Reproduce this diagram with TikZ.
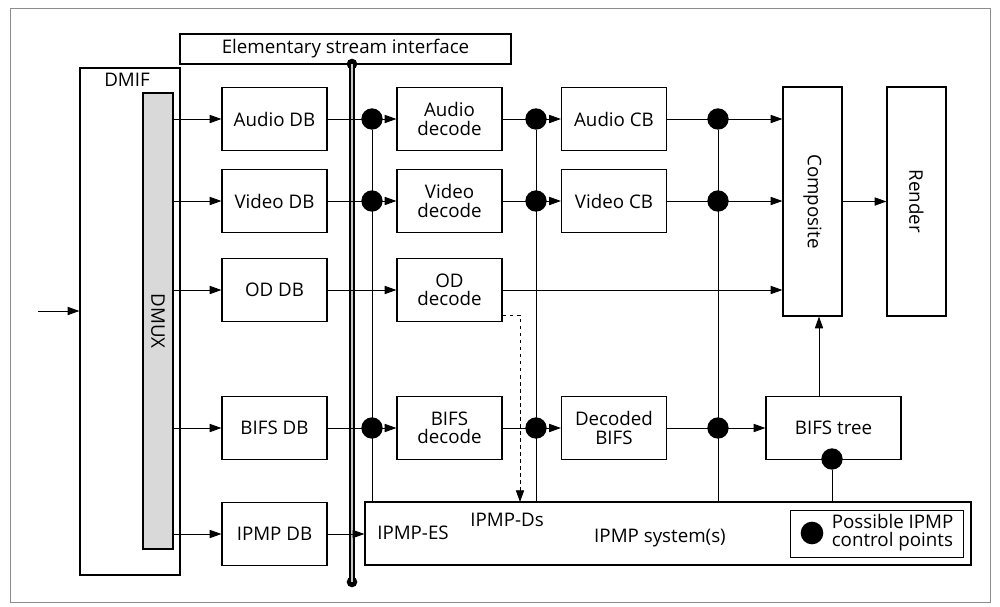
\documentclass[tikz,border=0pt]{standalone}
\usepackage{fontspec}
\setmainfont{Open Sans}
\usetikzlibrary{arrows.meta,positioning}
\definecolor{ipgray}{RGB}{140,140,140}
\definecolor{ipfill}{RGB}{200,200,200}
\tikzset{
  blk/.style={draw, line width=1pt, align=center, inner sep=0pt},
  dbbox/.style={blk, minimum width=3.15cm, minimum height=1.89cm},
  ctrl/.style={circle, fill=black, minimum size=0.64cm, inner sep=0pt},
  busend/.style={circle, fill=black, minimum size=0.32cm, inner sep=0pt},
  sig/.style={-{Stealth[length=10pt,width=7pt,inset=0pt]}, line width=0.75pt},
  wire/.style={line width=0.75pt},
  bus/.style={line width=1.3pt, double=ipfill, double distance=2pt}
}
\begin{document}
\begin{tikzpicture}[x=0.03cm, y=-0.03cm, font=\fontsize{16}{15.5}\selectfont]
\useasboundingbox (0,0) rectangle (1000,606);
% outer frame
\draw[ipgray, line width=0.6pt] (10,8) rectangle (990,602);
% interface and demux
\node[blk, minimum width=9.93cm, minimum height=0.9cm] (esi) at (345.5,49) {Elementary stream interface};
\node[blk, minimum width=3cm, minimum height=15.21cm] (dmif) at (130,321.5) {};
\node (dmiftxt) at (127,80) {DMIF};
\node[blk, fill=ipfill!70, minimum width=0.9cm, minimum height=13.68cm] (dmux) at (158,321) {};
\node[rotate=-90] (dmuxtxt) at (158,321) {DMUX};
% decoding buffers
\node[dbbox] (adb) at (274.5,119) {Audio DB};
\node[dbbox] (vdb) at (274.5,201) {Video DB};
\node[dbbox] (odb) at (274.5,290) {OD DB};
\node[dbbox] (bdb) at (274.5,428) {BIFS DB};
\node[dbbox] (idb) at (274.5,534) {IPMP DB};
% decoders
\node[dbbox] (adec) at (449.5,119) {Audio\\decode};
\node[dbbox] (vdec) at (449.5,201) {Video\\decode};
\node[dbbox] (odec) at (449.5,290) {OD\\decode};
\node[dbbox] (bdec) at (449.5,428) {BIFS\\decode};
% composition buffers
\node[dbbox] (acb) at (614,119) {Audio CB};
\node[dbbox] (vcb) at (614,201) {Video CB};
\node[dbbox] (dbifs) at (614,428) {Decoded\\BIFS};
% composite, render, scene tree
\node[blk, minimum width=1.77cm, minimum height=6.87cm] (comp) at (812.5,201.5) {};
\node[rotate=-90] (comptxt) at (comp) {Composite};
\node[blk, minimum width=1.77cm, minimum height=6.87cm] (render) at (916.5,201.5) {};
\node[rotate=-90] (rendertxt) at (render) {Render};
\node[blk, minimum width=4.05cm, minimum height=1.89cm] (btree) at (833.5,428) {BIFS tree};
% IPMP system
\node[blk, minimum width=18.18cm, minimum height=1.89cm] (ipmp) at (668,533.5) {};
\node (ipes) at (413,533) {IPMP-ES};
\node (ipds) at (507,520) {IPMP-Ds};
\node (ipsys) at (660,538) {IPMP system(s)};
% legend
\node[blk, line width=0.75pt, minimum width=5.19cm, minimum height=1.41cm] (legend) at (876.5,533.5) {};
\node[ctrl, minimum size=0.68cm] (legdot) at (812,533) {};
\node[align=left, right=0.24cm of legdot, inner sep=0pt] (legtxt) {Possible IPMP\\control points};
% stream bus
\node[busend] (bustop) at (352,64) {};
\node[busend] (busbot) at (352,582) {};
\draw[bus] (bustop.center) -- (busbot.center);
% control points
\node[ctrl] (c1a) at (372,119) {};
\node[ctrl] (c1v) at (372,201) {};
\node[ctrl] (c1b) at (372,428) {};
\node[ctrl] (c2a) at (536,119) {};
\node[ctrl] (c2v) at (536,201) {};
\node[ctrl] (c2b) at (536,428) {};
\node[ctrl] (c3a) at (718,119) {};
\node[ctrl] (c3v) at (718,201) {};
\node[ctrl] (c3b) at (718,428) {};
\node[ctrl] (c4) at (832,459) {};
\draw[wire] (c1a) -- (c1a |- ipmp.north);
\draw[wire] (c2a) -- (c2a |- ipmp.north);
\draw[wire] (c3a) -- (c3a |- ipmp.north);
\draw[wire] (c4) -- (c4 |- ipmp.north);
% input and demux outputs
\coordinate (inp) at (38,311);
\draw[sig] (inp) -- (inp -| dmif.west);
\foreach \b in {adb,vdb,odb,bdb,idb}
  \draw[sig] (dmux.east |- \b) -- (\b);
% data paths
\draw[sig] (adb) -- (adec);
\draw[sig] (vdb) -- (vdec);
\draw[sig] (odb) -- (odec);
\draw[sig] (bdb) -- (bdec);
\draw[sig] (adec) -- (acb);
\draw[sig] (vdec) -- (vcb);
\draw[sig] (bdec) -- (dbifs);
\draw[sig] (acb) -- (acb -| comp.west);
\draw[sig] (vcb) -- (vcb -| comp.west);
\draw[sig] (odec) -- (odec -| comp.west);
\draw[sig] (dbifs) -- (btree);
\draw[sig] (comp) -- (render);
\coordinate (treeout) at (819,397);
\draw[sig] (treeout) -- (treeout |- comp.south);
\draw[sig] (idb) -- (idb -| ipmp.west);
\coordinate (dsin) at (520,502);
\draw[sig, dashed] ([yshift=0.21cm]odec.south east) -| (dsin);
\end{tikzpicture}
\end{document}
